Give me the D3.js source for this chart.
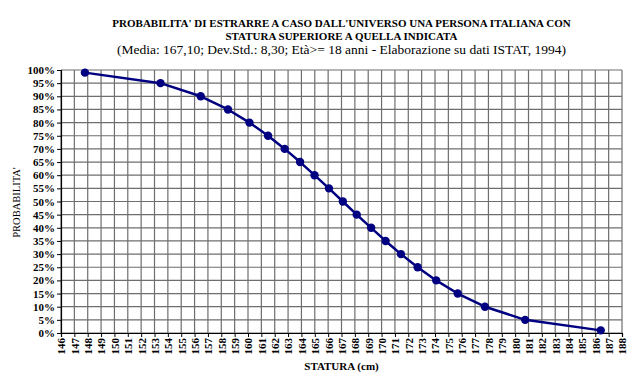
<!DOCTYPE html>
<head>
    <meta charset="utf-8">
    <script src="https://d3js.org/d3.v7.min.js"></script>
    <style>
        body { margin: 0; background: white; }
        svg text { font-family: "Liberation Serif", "Times New Roman", Times, serif; }
    </style>
</head>
<body>
    <div id="my_dataviz"></div>
    <script>
        // values
        var statura = [147.79, 153.45, 156.46, 158.50, 160.11, 161.50, 162.75, 163.90, 164.98, 166.06, 167.10,
            168.14, 169.22, 170.30, 171.45, 172.70, 174.09, 175.70, 177.74, 180.75, 186.41];
        var probabilita = [0.99, 0.95, 0.90, 0.85, 0.80, 0.75, 0.70, 0.65, 0.60, 0.55, 0.50,
            0.45, 0.40, 0.35, 0.30, 0.25, 0.20, 0.15, 0.10, 0.05, 0.01];
        var xTicks = d3.range(146, 189, 1);
        var yTicks = d3.range(0, 1.0001, 0.05);
        var titleLines = ["PROBABILITA' DI ESTRARRE A CASO DALL'UNIVERSO UNA PERSONA ITALIANA CON",
            "STATURA SUPERIORE A QUELLA INDICATA"];
        var subtitle = "(Media: 167,10; Dev.Std.: 8,30; Età>= 18 anni - Elaborazione su dati ISTAT, 1994)";

        var W = 640, H = 383;
        var margin = { top: 70, right: 18, bottom: 50, left: 61 },
            width = W - margin.left - margin.right,
            height = H - margin.top - margin.bottom;

        var root = d3.select("#my_dataviz").append("svg")
            .attr("width", W).attr("height", H);
        var svg = root.append("g")
            .attr("transform", "translate(" + margin.left + "," + margin.top + ")");

        var x = d3.scaleLinear().domain([146, 188]).range([0, width]);
        var y = d3.scaleLinear().domain([0, 1]).range([height, 0]);

        // grid
        svg.append("g").selectAll("line").data(xTicks).enter().append("line")
            .attr("x1", d => x(d)).attr("x2", d => x(d))
            .attr("y1", 0).attr("y2", height)
            .attr("stroke", "#6e6e6e").attr("stroke-width", 1.2);
        svg.append("g").selectAll("line").data(yTicks).enter().append("line")
            .attr("y1", d => y(d)).attr("y2", d => y(d))
            .attr("x1", 0).attr("x2", width)
            .attr("stroke", "#6e6e6e").attr("stroke-width", 1.2);

        // axes
        var yAxis = svg.append("g")
            .call(d3.axisLeft(y).tickValues(yTicks).tickSize(4).tickFormat(d3.format(".0%")));
        var xAxis = svg.append("g")
            .attr("transform", "translate(0," + height + ")")
            .call(d3.axisBottom(x).tickValues(xTicks).tickSize(4).tickFormat(d3.format("d")));
        root.selectAll(".domain").attr("stroke", "#000").attr("stroke-width", 1.2);
        root.selectAll(".tick line").attr("stroke", "#000");
        yAxis.attr("font-family", null);
        xAxis.attr("font-family", null);
        yAxis.selectAll("text")
            .style("font-size", "11px")
            .style("font-weight", "bold").attr("x", -6);
        xAxis.selectAll("text")
            .style("font-size", "11px")
            .style("font-weight", "bold")
            .attr("transform", "rotate(-90)")
            .attr("text-anchor", "end")
            .attr("x", -5).attr("y", 0).attr("dy", "0.35em");

        // line
        var pts = statura.map((s, i) => [s, probabilita[i]]);
        var line = d3.line()
            .x(d => x(d[0])).y(d => y(d[1]));
        svg.append("path").datum(pts)
            .attr("fill", "none").attr("stroke", "#000080").attr("stroke-width", 2.5)
            .attr("stroke-linejoin", "round")
            .attr("d", line);
        svg.selectAll("circle").data(pts).enter().append("circle")
            .attr("cx", d => x(d[0])).attr("cy", d => y(d[1]))
            .attr("r", 4.2).attr("fill", "#000080");

        // titles
        root.selectAll("text.title").data(titleLines).enter().append("text")
            .attr("class", "title")
            .attr("x", margin.left + width / 2).attr("y", (d, i) => 27 + i * 13)
            .attr("text-anchor", "middle")
            .style("font-size", "11px").style("font-weight", "bold")
            .text(d => d);
        root.append("text")
            .attr("x", margin.left + width / 2).attr("y", 54)
            .attr("text-anchor", "middle")
            .style("font-size", "13.5px")
            .text(subtitle);

        root.append("text")
            .attr("transform", "translate(20," + (margin.top + height / 2 + 1) + ") rotate(-90)")
            .attr("text-anchor", "middle")
            .style("font-size", "10.5px")
            .text("PROBABILITA'");
        root.append("text")
            .attr("x", margin.left + width / 2).attr("y", 370)
            .attr("text-anchor", "middle")
            .style("font-size", "11px").style("font-weight", "bold")
            .text("STATURA (cm)");
    </script>
</body>
</html>
